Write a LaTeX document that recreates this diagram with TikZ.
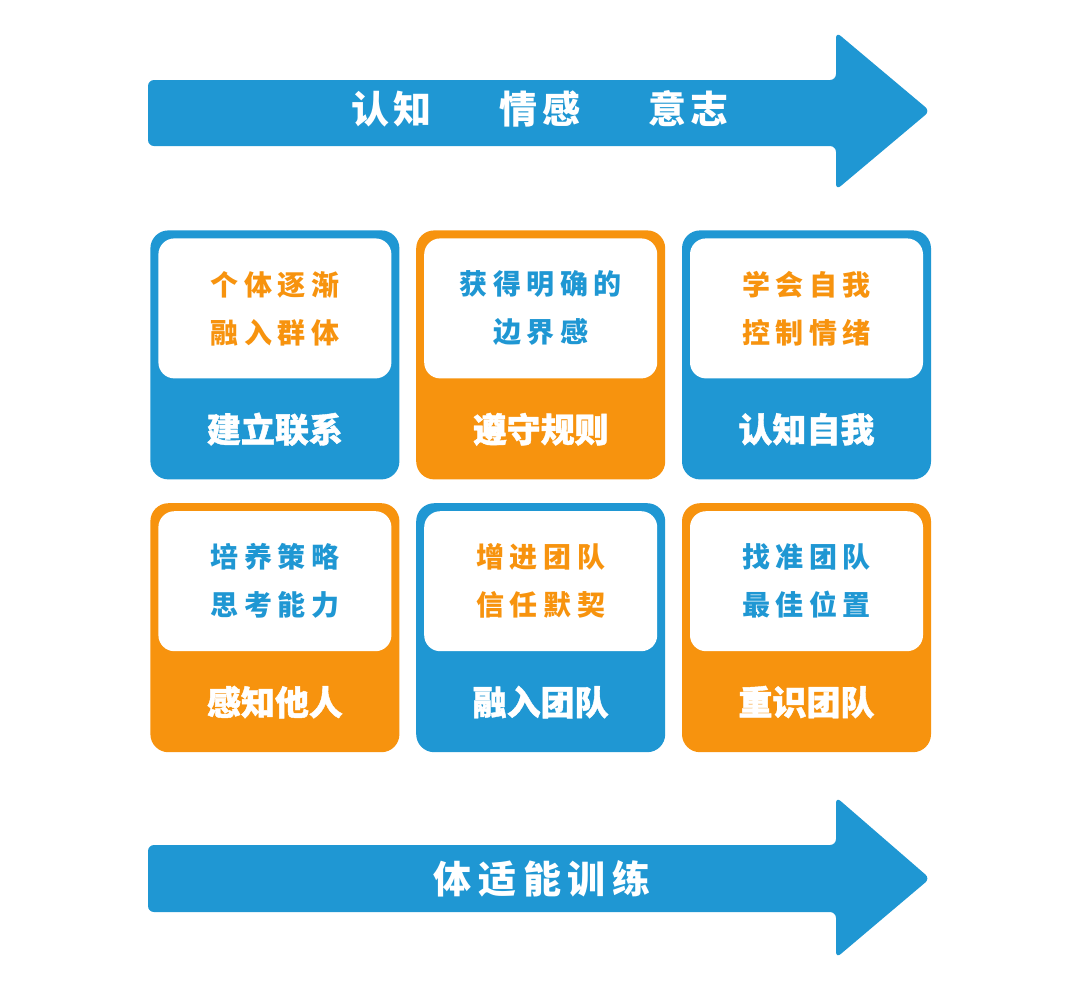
\documentclass[tikz,border=0pt]{standalone}
\usepackage{fontspec}
\usetikzlibrary{positioning, calc}
\newfontfamily\cjkheavy{Noto Sans CJK SC}[BoldFeatures={FakeBold=1.2}]
\newfontfamily\cjkwide{Noto Sans CJK SC}[LetterSpace=20]
\newfontfamily\cjktitle{Noto Sans CJK SC}[LetterSpace=12]
\newfontfamily\cjkbase{Noto Sans CJK SC}[LetterSpace=18]
\definecolor{cblue}{HTML}{1F97D3}
\definecolor{corange}{HTML}{F7930E}

\begin{document}
\begin{tikzpicture}[
        x=1pt, y=1pt,
        card/.style={rectangle, rounded corners=9pt, fill=#1, minimum width=124.5pt,
            minimum height=124.5pt, inner sep=0pt},
        panel/.style={rectangle, rounded corners=8pt, fill=white, minimum width=116.5pt,
            minimum height=70pt, inner sep=0pt, align=center, text=#1,
            font={\cjkwide\bfseries\fontsize{14pt}{24pt}\selectfont}},
        tag/.style={inner sep=0pt, text=white, font={\cjkheavy\bfseries\fontsize{17pt}{20pt}\selectfont}},
        banner/.style={fill=cblue, rounded corners=3pt},
        ]
        \useasboundingbox (0,0) rectangle (540,-498.5);

        % Top arrow
        \fill[banner] (74,-40) -- (418,-40) -- (418,-16) -- (465,-55.5) -- (418,-95)
            -- (418,-73) -- (74,-73) -- cycle;
        \node[text=white, font={\cjktitle\bfseries\fontsize{19pt}{20pt}\selectfont}] (stages) at (270,-54.5)
        {认知\hspace{34pt}情感\hspace{34pt}意志};

        % First row
        \node[card=cblue, anchor=north west] (c1) at (75,-115) {};
        \node[card=corange, right=8pt of c1] (c2) {};
        \node[card=cblue, right=8pt of c2] (c3) {};

        \node[panel=corange, below=4pt of c1.north] (p1) {个体逐渐\\融入群体};
        \node[panel=cblue, below=4pt of c2.north] (p2) {获得明确的\\边界感};
        \node[panel=corange, below=4pt of c3.north] (p3) {学会自我\\控制情绪};

        \node[tag] (t1) at ($(p1.south)!0.5!(c1.south)$) {建立联系};
        \node[tag] (t2) at ($(p2.south)!0.5!(c2.south)$) {遵守规则};
        \node[tag] (t3) at ($(p3.south)!0.5!(c3.south)$) {认知自我};

        % Second row
        \node[card=corange, below=11.5pt of c1] (c4) {};
        \node[card=cblue, right=8pt of c4] (c5) {};
        \node[card=corange, right=8pt of c5] (c6) {};

        \node[panel=cblue, below=4pt of c4.north] (p4) {培养策略\\思考能力};
        \node[panel=corange, below=4pt of c5.north] (p5) {增进团队\\信任默契};
        \node[panel=cblue, below=4pt of c6.north] (p6) {找准团队\\最佳位置};

        \node[tag] (t4) at ($(p4.south)!0.5!(c4.south)$) {感知他人};
        \node[tag] (t5) at ($(p5.south)!0.5!(c5.south)$) {融入团队};
        \node[tag] (t6) at ($(p6.south)!0.5!(c6.south)$) {重识团队};

        % Bottom arrow
        \fill[banner] (74,-422.5) -- (418,-422.5) -- (418,-398.5) -- (465,-439.25) -- (418,-479)
            -- (418,-456) -- (74,-456) -- cycle;
        \node[text=white, font={\cjkbase\bfseries\fontsize{19pt}{20pt}\selectfont}] (fitness) at (271,-439.5)
        {体适能训练};
\end{tikzpicture}
\end{document}
